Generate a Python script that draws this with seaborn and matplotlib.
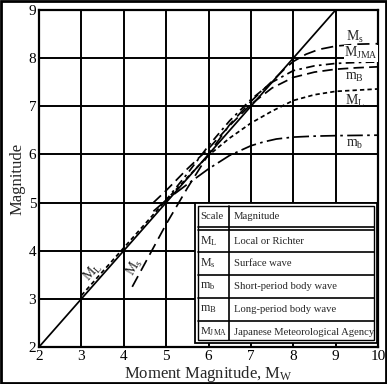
import matplotlib
matplotlib.use("Agg")
import matplotlib.pyplot as plt
import seaborn as sns
import pandas as pd
from matplotlib.patches import Rectangle
from matplotlib.lines import Line2D

# ---- data ----
mw_ref_x = [2, 9]
mw_ref_y = [2, 9]

ml_x = [3.0, 4.0, 5.0, 5.5, 6.0, 6.5, 7.0, 7.5, 8.0, 8.5, 9.0, 10.0]
ml_y = [3.07, 4.06, 5.05, 5.52, 5.98, 6.34, 6.65, 6.9, 7.12, 7.24, 7.31, 7.36]

ms_x = [4.2, 5.0, 5.5, 6.0, 6.5, 7.0, 7.5, 7.8, 8.0, 8.3, 8.6, 9.0, 9.5, 10.0]
ms_y = [3.25, 4.55, 5.3, 6.0, 6.62, 7.1, 7.52, 7.78, 7.93, 8.08, 8.18, 8.25, 8.29, 8.3]

mb_x = [4.7, 5.0, 5.5, 6.0, 6.5, 7.0, 7.3, 7.6, 8.0, 8.5, 9.0, 10.0]
mb_y = [4.82, 5.05, 5.38, 5.7, 5.98, 6.18, 6.26, 6.32, 6.36, 6.38, 6.39, 6.4]

mB_x = [4.7, 5.0, 5.5, 6.0, 6.5, 7.0, 7.5, 8.0, 8.5, 9.0, 9.5, 10.0]
mB_y = [5.0, 5.25, 5.7, 6.12, 6.6, 7.04, 7.38, 7.6, 7.71, 7.77, 7.8, 7.82]

mjma_x = [4.95, 5.5, 6.0, 6.5, 7.0, 7.5, 8.0, 8.5, 9.0, 9.5, 10.0]
mjma_y = [5.0, 5.6, 6.18, 6.7, 7.14, 7.5, 7.74, 7.84, 7.89, 7.91, 7.92]

x_ticks = [2, 3, 4, 5, 6, 7, 8, 9, 10]
y_ticks = [2, 3, 4, 5, 6, 7, 8, 9]

table_symbols = ["M$_\\mathregular{L}$", "M$_\\mathregular{s}$", "m$_\\mathregular{b}$",
                 "m$_\\mathregular{B}$", "M$_\\mathregular{JMA}$"]
table_names = ["Local or Richter", "Surface wave", "Short-period body wave",
               "Long-period body wave", "Japanese Meteorological Agency"]

# ---- style ----
sns.set_theme(style="white")
plt.rcParams['font.family'] = ['Liberation Serif', 'DejaVu Serif']
plt.rcParams['mathtext.fontset'] = 'custom'
plt.rcParams['mathtext.rm'] = 'Liberation Serif'
plt.rcParams['mathtext.it'] = 'Liberation Serif'

W, H = 387, 384
fig = plt.figure(figsize=(W / 100, H / 100), dpi=100)
fig.patch.set_facecolor("white")

def fx(px):
    return px / W

def fy(py):
    return 1 - py / H

ax = fig.add_axes([fx(39), fy(347), fx(378) - fx(39), fy(10) - fy(347)])
ax.set_xlim(2, 10)
ax.set_ylim(2, 9)
ax.set_xticks(x_ticks)
ax.set_yticks(y_ticks)
ax.grid(True, color="black", linewidth=1.4)
ax.set_axisbelow(True)
for s in ax.spines.values():
    s.set_color("black")
    s.set_linewidth(1.6)
ax.tick_params(axis="both", labelsize=11, length=0, pad=2, colors="black")

lw = 1.25
def draw(x, y, ls):
    df = pd.DataFrame({"x": x, "y": y})
    sns.lineplot(data=df, x="x", y="y", ax=ax, color="black", linewidth=lw,
                 linestyle=ls, sort=False, estimator=None)

draw(mw_ref_x, mw_ref_y, "-")
draw(ml_x, ml_y, (0, (2.5, 1.8)))
draw(ms_x, ms_y, (0, (7, 3.5)))
draw(mb_x, mb_y, (0, (9, 2.5, 1.5, 2.5)))
draw(mB_x, mB_y, (0, (6, 3)))
draw(mjma_x, mjma_y, (0, (5, 2.5, 1.5, 2.5)))
ax.set_xlabel("Moment Magnitude, M$_\\mathregular{W}$", fontsize=12, labelpad=1)
ax.set_ylabel("Magnitude", fontsize=12, labelpad=2)

# curve labels
lab_fs = 10
ax.text(9.45, 8.44, "M$_\\mathregular{s}$", fontsize=lab_fs, ha="center", va="center")
ax.text(9.6, 8.1, "M$_\\mathregular{JMA}$", fontsize=lab_fs, ha="center", va="center",
        bbox=dict(facecolor="white", edgecolor="none", pad=0.3))
ax.text(9.45, 7.6, "m$_\\mathregular{B}$", fontsize=lab_fs, ha="center", va="center")
ax.text(9.45, 7.12, "M$_\\mathregular{L}$", fontsize=lab_fs, ha="center", va="center")
ax.text(9.45, 6.2, "m$_\\mathregular{b}$", fontsize=lab_fs, ha="center", va="center")
ax.text(3.27, 3.55, "M$_\\mathregular{L}$", fontsize=lab_fs, ha="center", va="center", rotation=48)
ax.text(4.26, 3.66, "M$_\\mathregular{s}$", fontsize=lab_fs, ha="center", va="center", rotation=60)

# ---- table ----
tx0, tx1, ty0, ty1 = 195, 377, 203, 343
fig.patches.append(Rectangle((fx(tx0), fy(ty1)), fx(tx1) - fx(tx0), fy(ty0) - fy(ty1),
                             transform=fig.transFigure, facecolor="white", edgecolor="black",
                             linewidth=1.3, zorder=5))
fig.patches.append(Rectangle((fx(tx0 + 3), fy(ty1 - 3)), fx(tx1 - tx0 - 6), fy(ty0 + 3) - fy(ty1 - 3),
                             transform=fig.transFigure, facecolor="none", edgecolor="black",
                             linewidth=1.0, zorder=6))

def hline(py, lw_=1.2):
    fig.lines.append(Line2D([fx(tx0 + 3), fx(tx1 - 3)], [fy(py), fy(py)],
                            transform=fig.transFigure, color="black", linewidth=lw_, zorder=7))

col_x = 229
header_bot = 227
row_tops = [230, 252, 275, 298, 321]
row_h = 22.5
hline(header_bot)
hline(row_tops[0])
for r in row_tops[1:]:
    hline(r)
fig.lines.append(Line2D([fx(col_x), fx(col_x)], [fy(ty0 + 3), fy(ty1 - 3)],
                        transform=fig.transFigure, color="black", linewidth=1.2, zorder=7))

tfs = 7.7
sfs = 8.6
fig.text(fx(200), fy((ty0 + 3 + header_bot) / 2), "Scale", fontsize=tfs, va="center", zorder=8)
fig.text(fx(234), fy((ty0 + 3 + header_bot) / 2), "Magnitude", fontsize=tfs, va="center", zorder=8)
for i, (sym, name) in enumerate(zip(table_symbols, table_names)):
    yc = row_tops[i] + row_h / 2
    fig.text(fx(200), fy(yc), sym, fontsize=sfs if i < 4 else 8.0, va="center", zorder=8)
    fig.text(fx(234), fy(yc), name, fontsize=tfs, va="center", zorder=8)

# figure border
fig.patches.append(Rectangle((0.002, 0.002), 0.996, 0.996, transform=fig.transFigure,
                             facecolor="none", edgecolor="black", linewidth=2, zorder=10))

fig.savefig("out.png", dpi=100)
